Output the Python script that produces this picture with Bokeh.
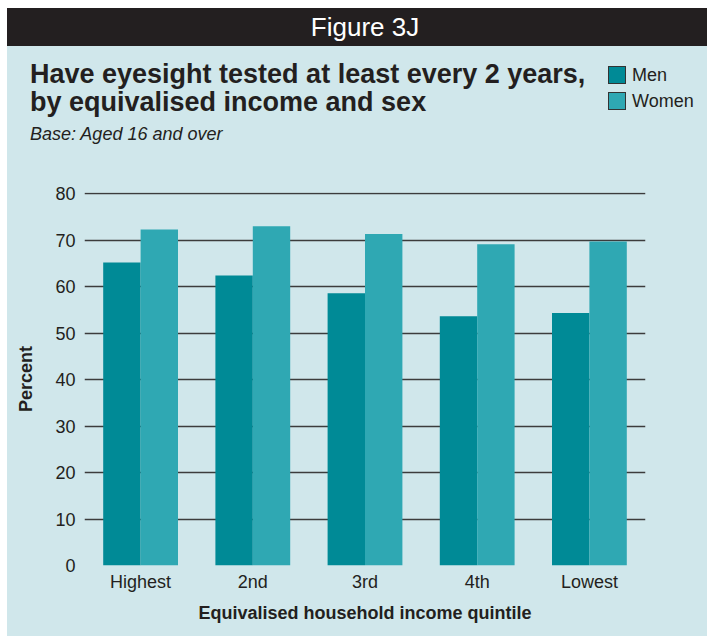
from bokeh.plotting import figure
from bokeh.models import FactorRange, Range1d, FixedTicker, ColumnDataSource, Div
from bokeh.layouts import column
from bokeh.transform import dodge
from bokeh.embed import file_html
from bokeh.resources import INLINE

# ---- data ----
categories = ["Highest", "2nd", "3rd", "4th", "Lowest"]
men = [65.2, 62.4, 58.6, 53.6, 54.3]
women = [72.3, 73.0, 71.3, 69.1, 69.7]
y_ticks = [0, 10, 20, 30, 40, 50, 60, 70, 80]
series_names = ["Men", "Women"]

header_text = "Figure 3J"
title_line1 = "Have eyesight tested at least every 2 years,"
title_line2 = "by equivalised income and sex"
subtitle = "Base: Aged 16 and over"
x_label = "Equivalised household income quintile"
y_label = "Percent"

# ---- style ----
BG = "#D0E7EB"
HEAD = "#231F20"
MEN_C = "#008A96"
WOMEN_C = "#2FA8B3"
TXT = "#231F20"
FONT = "Liberation Sans"
W = 700
TOP_H = 150          # html title block height
H = 628 - TOP_H      # chart figure height

# ---- title block (header bar, titles, legend) ----
def legend_entry(top, color, label):
    return (f'<div style="position:absolute;left:601px;top:{top}px;width:18px;height:18px;'
            f'box-sizing:border-box;background:{color};border:1px solid #333333;"></div>'
            f'<div style="position:absolute;left:625px;top:{top}px;height:18px;line-height:18px;'
            f'font-size:18px;white-space:nowrap;">{label}</div>')

html = (
    f'<div style="position:relative;width:{W}px;height:{TOP_H}px;overflow:hidden;'
    f'color:{TXT};font-family:\'{FONT}\';">'
    f'<div style="position:absolute;left:0;top:0;width:{W}px;height:38px;background:{HEAD};"></div>'
    f'<div style="position:absolute;left:8px;top:0;width:{W}px;height:38px;line-height:38px;'
    f'text-align:center;color:white;font-size:26px;">{header_text}</div>'
    f'<div style="position:absolute;left:23px;top:53px;font-size:27px;line-height:27px;'
    f'font-weight:bold;white-space:nowrap;">{title_line1}</div>'
    f'<div style="position:absolute;left:23px;top:81px;font-size:27px;line-height:27px;'
    f'font-weight:bold;white-space:nowrap;">{title_line2}</div>'
    f'<div style="position:absolute;left:23px;top:117px;font-size:18px;line-height:18px;'
    f'font-style:italic;white-space:nowrap;">{subtitle}</div>'
    + legend_entry(58, MEN_C, series_names[0])
    + legend_entry(84, WOMEN_C, series_names[1])
    + '</div>'
)
top_block = Div(text=html, width=W, height=TOP_H, margin=(0, 0, 0, 0))

# ---- chart ----
p = figure(width=W, height=H, output_backend="svg", toolbar_location=None,
           x_range=FactorRange(*categories), y_range=Range1d(0, 80.25),
           min_border_left=77, min_border_right=62, min_border_top=34, min_border_bottom=71,
           background_fill_alpha=0, border_fill_alpha=0, outline_line_color=None)
p.margin = (0, 0, 0, 0)

src = ColumnDataSource(dict(cat=categories, men=men, women=women))
p.vbar(x=dodge("cat", -1/6, range=p.x_range), top="men", width=1/3, source=src,
       fill_color=MEN_C, line_color=None)
p.vbar(x=dodge("cat", 1/6, range=p.x_range), top="women", width=1/3, source=src,
       fill_color=WOMEN_C, line_color=None)

p.xgrid.grid_line_color = None
p.ygrid.grid_line_color = "#3c3c3c"
p.ygrid.grid_line_width = 1.3
p.yaxis.ticker = FixedTicker(ticks=y_ticks)
for ax in (p.xaxis[0], p.yaxis[0]):
    ax.axis_line_color = None
    ax.major_tick_line_color = None
    ax.minor_tick_line_color = None
    ax.major_tick_out = 0
    ax.major_tick_in = 0
    ax.major_label_text_font = FONT
    ax.major_label_text_font_size = "18px"
    ax.major_label_text_color = TXT
    ax.axis_label_text_font = FONT
    ax.axis_label_text_font_size = "18px"
    ax.axis_label_text_font_style = "bold"
    ax.axis_label_text_color = TXT
p.xaxis.major_label_standoff = 6
p.xaxis.axis_label = x_label
p.xaxis.axis_label_standoff = 8
p.yaxis.major_label_standoff = 9
p.yaxis.axis_label = y_label
p.yaxis.axis_label_standoff = 16

layout = column(top_block, p, spacing=0)
layout.margin = (8, 0, 0, 7)
layout.styles = {"background-color": BG}

open("out.html", "w").write(file_html(layout, INLINE))
